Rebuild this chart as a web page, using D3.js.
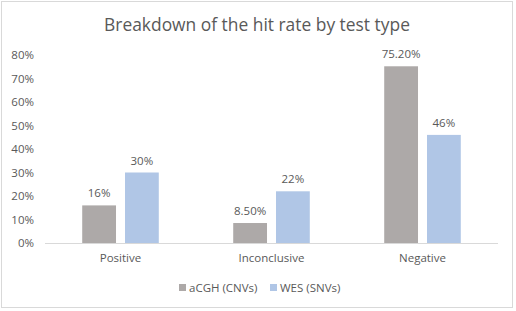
<!DOCTYPE html>
<html>
<head>
<meta charset="utf-8">
<script src="https://cdn.jsdelivr.net/npm/d3@7"></script>
<style>
  html, body { margin: 0; padding: 0; background: #fff; }
  text { font-family: "Open Sans", "Liberation Sans", sans-serif; fill: #595959; }
</style>
</head>
<body>
<div id="chart"></div>
<script>
// Chart data
const categories = ["Positive", "Inconclusive", "Negative"];
const seriesNames = ["aCGH (CNVs)", "WES (SNVs)"];
const acghValues = [16, 8.5, 75.2];
const wesValues = [30, 22, 46];
const acghLabels = ["16%", "8.50%", "75.20%"];
const wesLabels = ["30%", "22%", "46%"];
const yTicks = [0, 10, 20, 30, 40, 50, 60, 70, 80];

const colors = ["#ADA9A8", "#B0C6E6"];

const width = 516;
const height = 311;
const margin = { top: 55, right: 18, bottom: 68, left: 45 };

const svg = d3.select("#chart")
  .append("svg")
  .attr("width", width)
  .attr("height", height);

// outer border
svg.append("rect")
  .attr("x", 1.5).attr("y", 1.5)
  .attr("width", width - 5).attr("height", height - 5)
  .attr("fill", "#fff")
  .attr("stroke", "#d9d9d9");

const x = d3.scaleBand()
  .domain(categories)
  .range([margin.left, width - margin.right])
  .paddingInner(0)
  .paddingOuter(0);

const xInner = d3.scaleBand()
  .domain(seriesNames)
  .range([0, x.bandwidth()])
  .paddingInner(0.21)
  .paddingOuter(0.87);

const y = d3.scaleLinear()
  .domain([0, 80])
  .range([height - margin.bottom, margin.top]);

// title
svg.append("text")
  .attr("x", 257)
  .attr("y", 31)
  .attr("text-anchor", "middle")
  .style("font-size", "17.4px")
  .text("Breakdown of the hit rate by test type");

// y tick labels
svg.selectAll(".ytick")
  .data(yTicks)
  .enter()
  .append("text")
  .attr("class", "ytick")
  .attr("x", 34)
  .attr("y", (d) => y(d))
  .attr("dy", "0.35em")
  .attr("text-anchor", "end")
  .style("font-size", "11.5px")
  .text((d) => d + "%");

// x axis line
svg.append("line")
  .attr("x1", margin.left)
  .attr("x2", width - margin.right)
  .attr("y1", y(0) + 0.5)
  .attr("y2", y(0) + 0.5)
  .attr("stroke", "#d9d9d9");

const series = [
  { name: seriesNames[0], values: acghValues, labels: acghLabels, color: colors[0] },
  { name: seriesNames[1], values: wesValues, labels: wesLabels, color: colors[1] },
];

series.forEach((s) => {
  const g = svg.append("g");
  g.selectAll("rect")
    .data(categories)
    .enter()
    .append("rect")
    .attr("x", (c) => x(c) + xInner(s.name))
    .attr("y", (c, i) => y(s.values[i]))
    .attr("width", xInner.bandwidth())
    .attr("height", (c, i) => y(0) - y(s.values[i]))
    .attr("fill", s.color);

  g.selectAll("text")
    .data(categories)
    .enter()
    .append("text")
    .attr("x", (c) => x(c) + xInner(s.name) + xInner.bandwidth() / 2)
    .attr("y", (c, i) => y(s.values[i]) - 8)
    .attr("text-anchor", "middle")
    .style("font-size", "11.5px")
    .text((c, i) => s.labels[i]);
});

// category labels
svg.selectAll(".xlabel")
  .data(categories)
  .enter()
  .append("text")
  .attr("class", "xlabel")
  .attr("x", (c) => x(c) + x.bandwidth() / 2)
  .attr("y", y(0) + 19)
  .attr("text-anchor", "middle")
  .style("font-size", "11.5px")
  .text((c) => c);

// legend
const legendX = [179, 270];
series.forEach((s, i) => {
  svg.append("rect")
    .attr("x", legendX[i])
    .attr("y", 284)
    .attr("width", 7)
    .attr("height", 7)
    .attr("fill", s.color);
  svg.append("text")
    .attr("x", legendX[i] + 10)
    .attr("y", 288)
    .attr("dy", "0.35em")
    .style("font-size", "11.5px")
    .text(s.name);
});
</script>
</body>
</html>
